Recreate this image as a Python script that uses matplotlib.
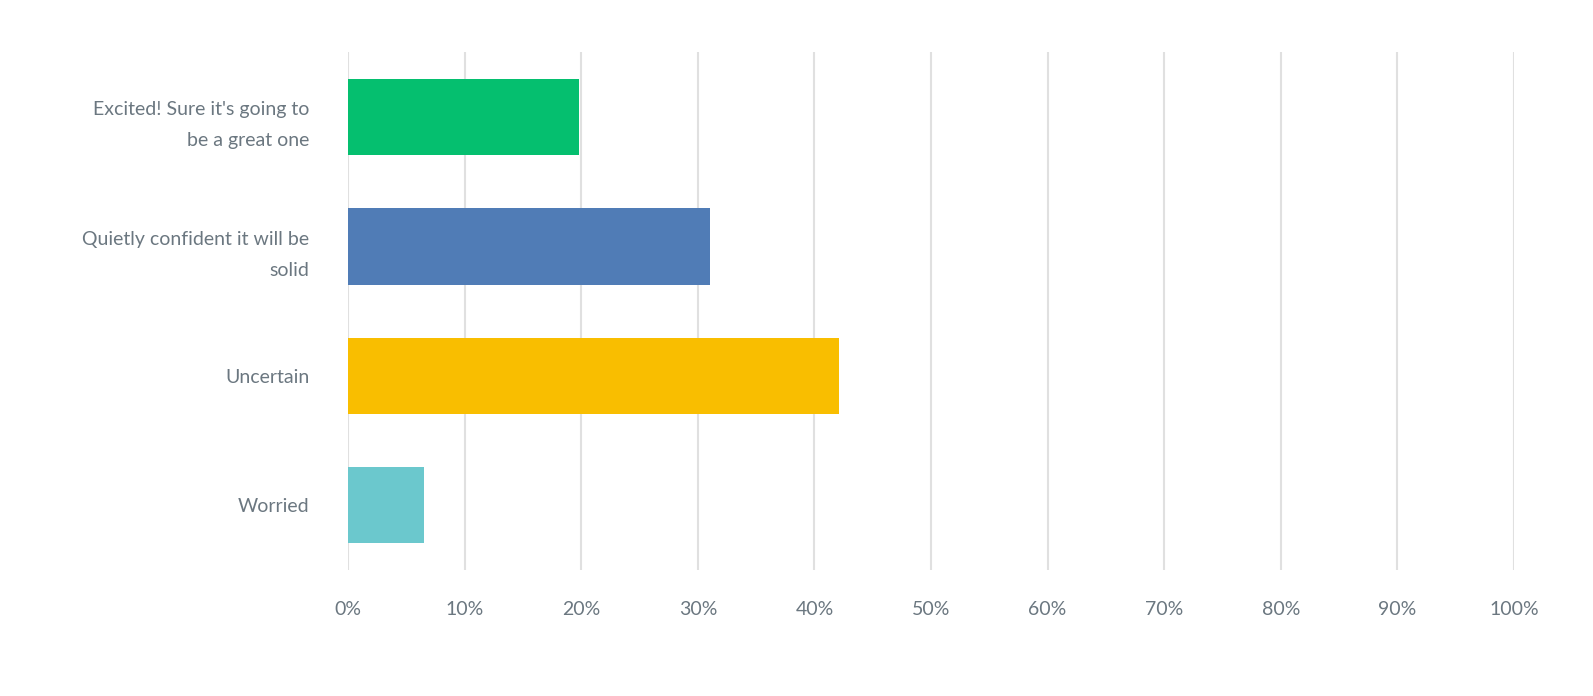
import matplotlib.pyplot as plt

categories = ["Excited! Sure it's going to\nbe a great one",
              "Quietly confident it will be\nsolid",
              "Uncertain",
              "Worried"]
values = [19.8, 31.0, 42.1, 6.5]
colors = ["#05bf6f", "#507cb6", "#f9be00", "#6bc8cd"]
ticks = list(range(0, 101, 10))
tick_labels = [f"{t}%" for t in ticks]

plt.rcParams['font.family'] = ['Lato', 'DejaVu Sans']

fig = plt.figure(figsize=(15.93, 6.96), dpi=100)
ax = fig.add_axes([0.2185, 0.181, 0.7319, 0.744])

ypos = range(len(categories))
ax.barh(ypos, values, height=0.59, color=colors, zorder=3)

ax.set_xlim(0, 100)
ax.set_ylim(3.5, -0.5)
ax.set_xticks(ticks)
ax.set_xticklabels(tick_labels, fontsize=14, color="#6b7780")
ax.set_yticks(list(ypos))
ax.set_yticklabels(categories, fontsize=14, color="#6b7780", linespacing=2.0)
ax.tick_params(axis='both', length=0)
ax.tick_params(axis='x', pad=22)
ax.tick_params(axis='y', pad=28)
ax.xaxis.grid(True, color="#e0e0e0", linewidth=1.5, zorder=0)
for s in ax.spines.values():
    s.set_visible(False)

fig.savefig("out.png", dpi=100)
